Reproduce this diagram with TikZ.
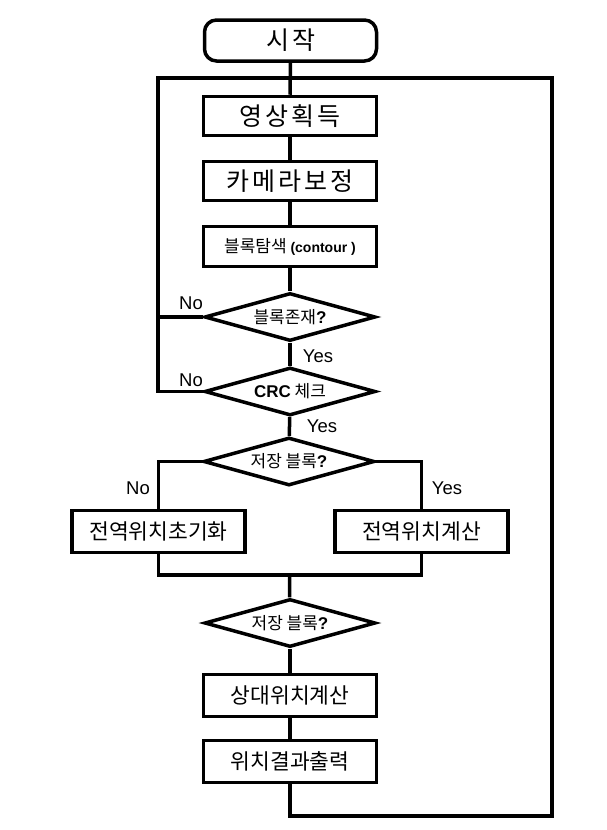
\documentclass[tikz,border=0pt]{standalone}
\usepackage{fontspec}
\setmainfont{Liberation Sans}
\newfontfamily\kr{Noto Sans CJK KR}
\newfontfamily\krwide[LetterSpace=12]{Noto Sans CJK KR}
\usetikzlibrary{shapes.geometric}

\tikzset{
  flow/.style={line width=3.5pt},
  bigbox/.style={draw, flow, minimum width=173pt, minimum height=39pt, inner sep=0pt,
    font=\krwide\fontsize{25}{28}\selectfont},
  midbox/.style={draw, flow, minimum width=173pt, minimum height=42pt, inner sep=0pt,
    font=\kr\fontsize{21.5}{24}\selectfont},
  smallbox/.style={draw, flow, minimum width=173pt, minimum height=40pt, inner sep=0pt,
    font=\kr\fontsize{17}{20}\selectfont},
  startbox/.style={draw, flow, rounded corners=12pt, minimum width=172pt, minimum height=41pt,
    inner sep=0pt, font=\krwide\fontsize{25}{28}\selectfont},
  decision/.style={draw, flow, diamond, aspect=3.4, minimum width=171pt, minimum height=48pt,
    inner sep=0pt, font=\kr\fontsize{17}{20}\selectfont},
  answer/.style={inner sep=0pt, font=\fontsize{18.5}{22}\selectfont}
}

\begin{document}
\begin{tikzpicture}[x=1pt, y=-1pt]
  \useasboundingbox (0,0) rectangle (606,830);

  % main column
  \node[startbox] (start) at (290.5,40.5) {시작};
  \node[bigbox] (acquire) at (290,116) {영상획득};
  \node[bigbox] (calib) at (290,181) {카메라보정};
  \node[smallbox] (search) at (290,246.5) {블록탐색 {\rmfamily\bfseries\fontsize{14}{16}\selectfont (contour )}};
  \node[decision] (exist) at (290,317) {블록존재{\rmfamily\bfseries ?}};
  \node[decision] (crc) at (290,391.5) {{\rmfamily\bfseries CRC} 체크};
  \node[decision] (stored) at (289,461.5) {저장 블록{\rmfamily\bfseries ?}};
  \node[midbox, minimum height=42pt] (init) at (158.5,531.5) {전역위치초기화};
  \node[midbox, minimum height=42pt] (global) at (421.5,531.5) {전역위치계산};
  \node[decision] (storedb) at (290,623) {저장 블록{\rmfamily\bfseries ?}};
  \node[midbox] (relative) at (290,695.5) {상대위치계산};
  \node[midbox] (output) at (290,761.5) {위치결과출력};

  % loop corners
  \coordinate (merge) at (289.5,575);
  \coordinate (loopbr) at (552,816);
  \coordinate (looptr) at (552,78);
  \coordinate (looptl) at (158,78);

  % branch labels
  \node[answer] (noexist) at (191,303) {No};
  \node[answer] (nocrc) at (191,380) {No};
  \node[answer] (yesexist) at (318,356) {Yes};
  \node[answer] (yescrc) at (322,426) {Yes};
  \node[answer] (nostored) at (138,488) {No};
  \node[answer] (yesstored) at (447,488) {Yes};

  % connectors
  \draw[flow] (start) -- (acquire);
  \draw[flow] (acquire) -- (calib);
  \draw[flow] (calib) -- (search);
  \draw[flow] (search) -- (exist);
  \draw[flow] (exist) -- (crc);
  \draw[flow] (crc) -- (stored);
  \draw[flow] (stored.west) -| (init.north);
  \draw[flow] (stored.east) -| (global.north);
  \draw[flow] (init.south) |- (merge) -| (global.south);
  \draw[flow] (merge) -- (storedb);
  \draw[flow] (storedb) -- (relative);
  \draw[flow] (relative) -- (output);
  \draw[flow] (output.south) |- (loopbr) -- (looptr) -- (looptl) |- (crc.west);
  \draw[flow] (exist.west) -- (exist.west -| looptl);
\end{tikzpicture}
\end{document}
